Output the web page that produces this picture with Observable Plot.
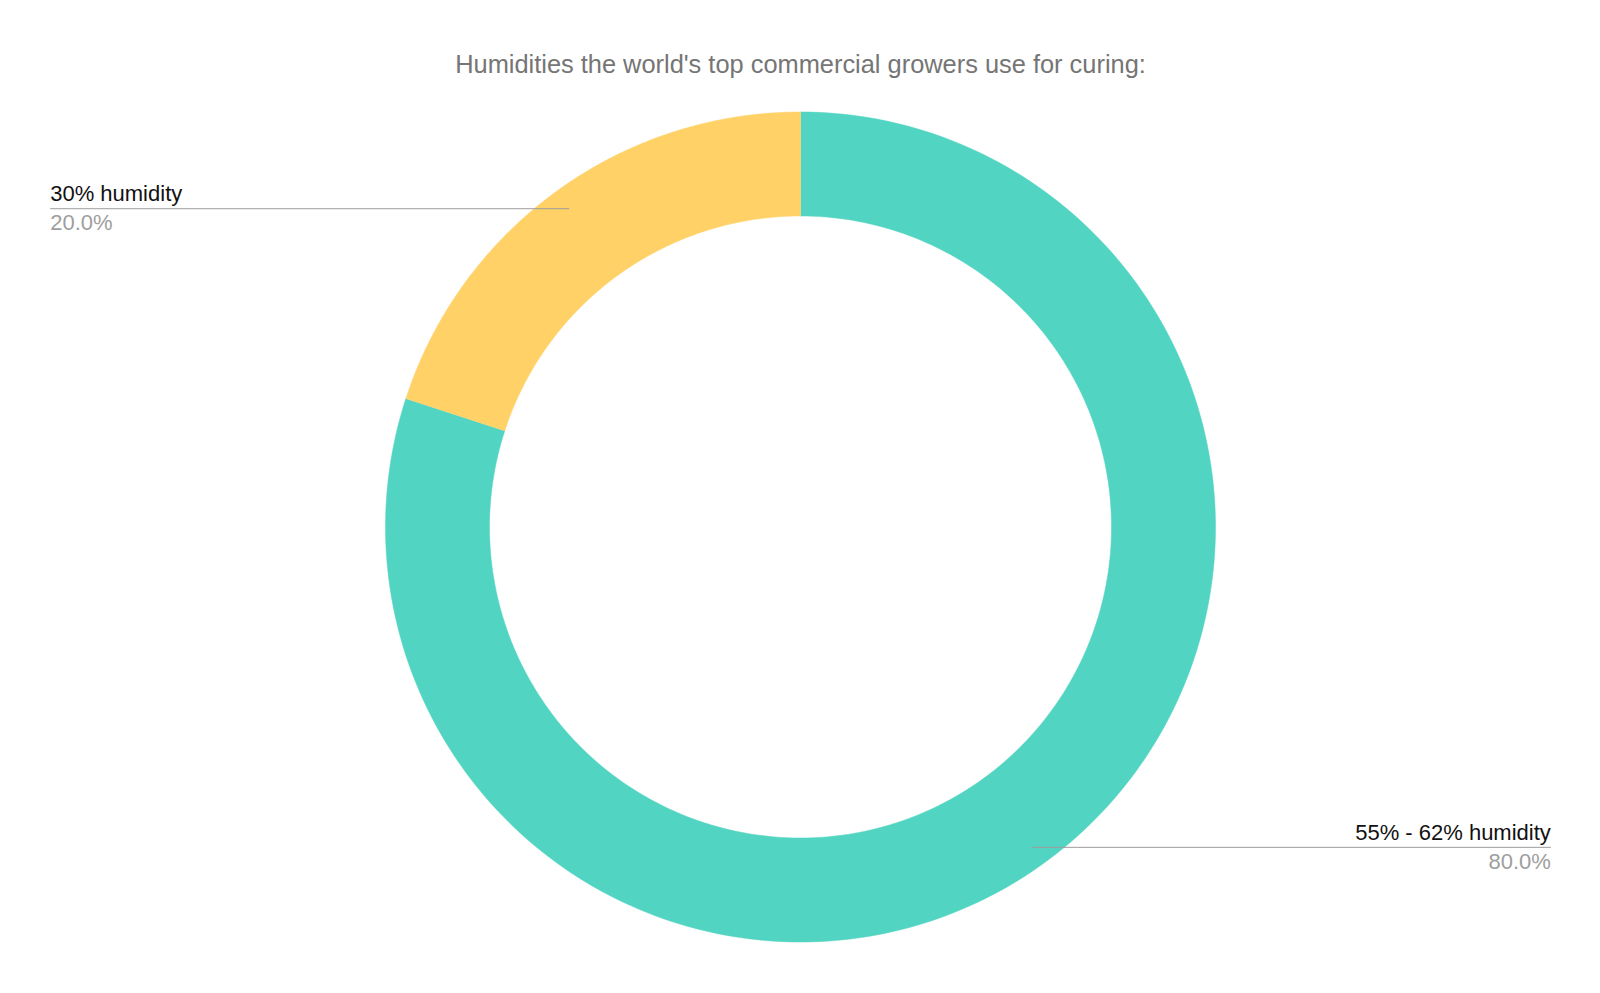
<!DOCTYPE html>
<html><head><meta charset="utf-8">
<script src="https://cdn.jsdelivr.net/npm/d3@7"></script>
<script src="https://cdn.jsdelivr.net/npm/@observablehq/plot@0.6"></script>
<style>
body{margin:0;background:#fff;}
svg{font-family:"Liberation Sans",Arial,sans-serif;}
</style>
</head><body><div id="chart"></div>
<script>
const title = "Humidities the world's top commercial growers use for curing:";
const categories = ["55% - 62% humidity", "30% humidity"];
const values = [80, 20];
const colors = ["#51d4c1", "#ffd166"];

const rows = categories.map((name, i) => ({name, value: values[i], color: colors[i]}));
const total = d3.sum(values);
const innerRatio = 311 / 415;
const arcs = d3.pie().sort(null).value(d => d.value)(rows);

// ring polygons in unit-circle coordinates (y up, angle clockwise from top)
const ringPts = [];
arcs.forEach(a => {
  const n = 240;
  for (let k = 0; k <= n; k++) {
    const t = a.startAngle + (a.endAngle - a.startAngle) * k / n;
    ringPts.push({name: a.data.name, x: Math.sin(t), y: Math.cos(t)});
  }
  for (let k = n; k >= 0; k--) {
    const t = a.startAngle + (a.endAngle - a.startAngle) * k / n;
    ringPts.push({name: a.data.name, x: innerRatio * Math.sin(t), y: innerRatio * Math.cos(t)});
  }
});

// leader lines and labels
const labelEdge = 1.808;
const labelRows = arcs.map(a => {
  const mid = (a.startAngle + a.endAngle) / 2;
  const r = 0.948;
  const x0 = r * Math.sin(mid), y0 = r * Math.cos(mid);
  const right = x0 > 0;
  return {
    name: a.data.name,
    pct: d3.format(".1%")(a.data.value / total),
    x1: x0, x2: right ? labelEdge : -labelEdge, y: right ? y0 - 0.005 : y0,
    tx: right ? labelEdge : -labelEdge,
    anchor: right ? "end" : "start"
  };
});

const plot = Plot.plot({
  width: 1600,
  height: 993,
  marginLeft: 385,
  marginRight: 385,
  marginTop: 111.5,
  marginBottom: 51.5,
  x: {domain: [-1, 1], axis: null},
  y: {domain: [-1, 1], axis: null},
  style: {background: "#fff", fontFamily: "Liberation Sans, Arial, sans-serif"},
  marks: [
    ...arcs.map(a => Plot.line(ringPts.filter(p => p.name === a.data.name),
      {x: "x", y: "y", fill: a.data.color, stroke: a.data.color, strokeWidth: 0.5, curve: "linear"})),
    Plot.link(labelRows, {x1: "x1", x2: "x2", y1: "y", y2: "y", stroke: "#9e9e9e", strokeWidth: 1}),
    ...labelRows.map(d => Plot.text([d], {x: "tx", y: "y", text: "name", textAnchor: d.anchor, dy: -14.5, fontSize: 22, fill: "#111"})),
    ...labelRows.map(d => Plot.text([d], {x: "tx", y: "y", text: "pct", textAnchor: d.anchor, dy: 14.5, fontSize: 22, fill: "#9e9e9e"})),
    Plot.text([title], {frameAnchor: "top", lineAnchor: "middle", dy: -47, text: d => d, fontSize: 25.4, fill: "#757575"})
  ]
});
document.getElementById("chart").appendChild(plot);
</script>
</body></html>
